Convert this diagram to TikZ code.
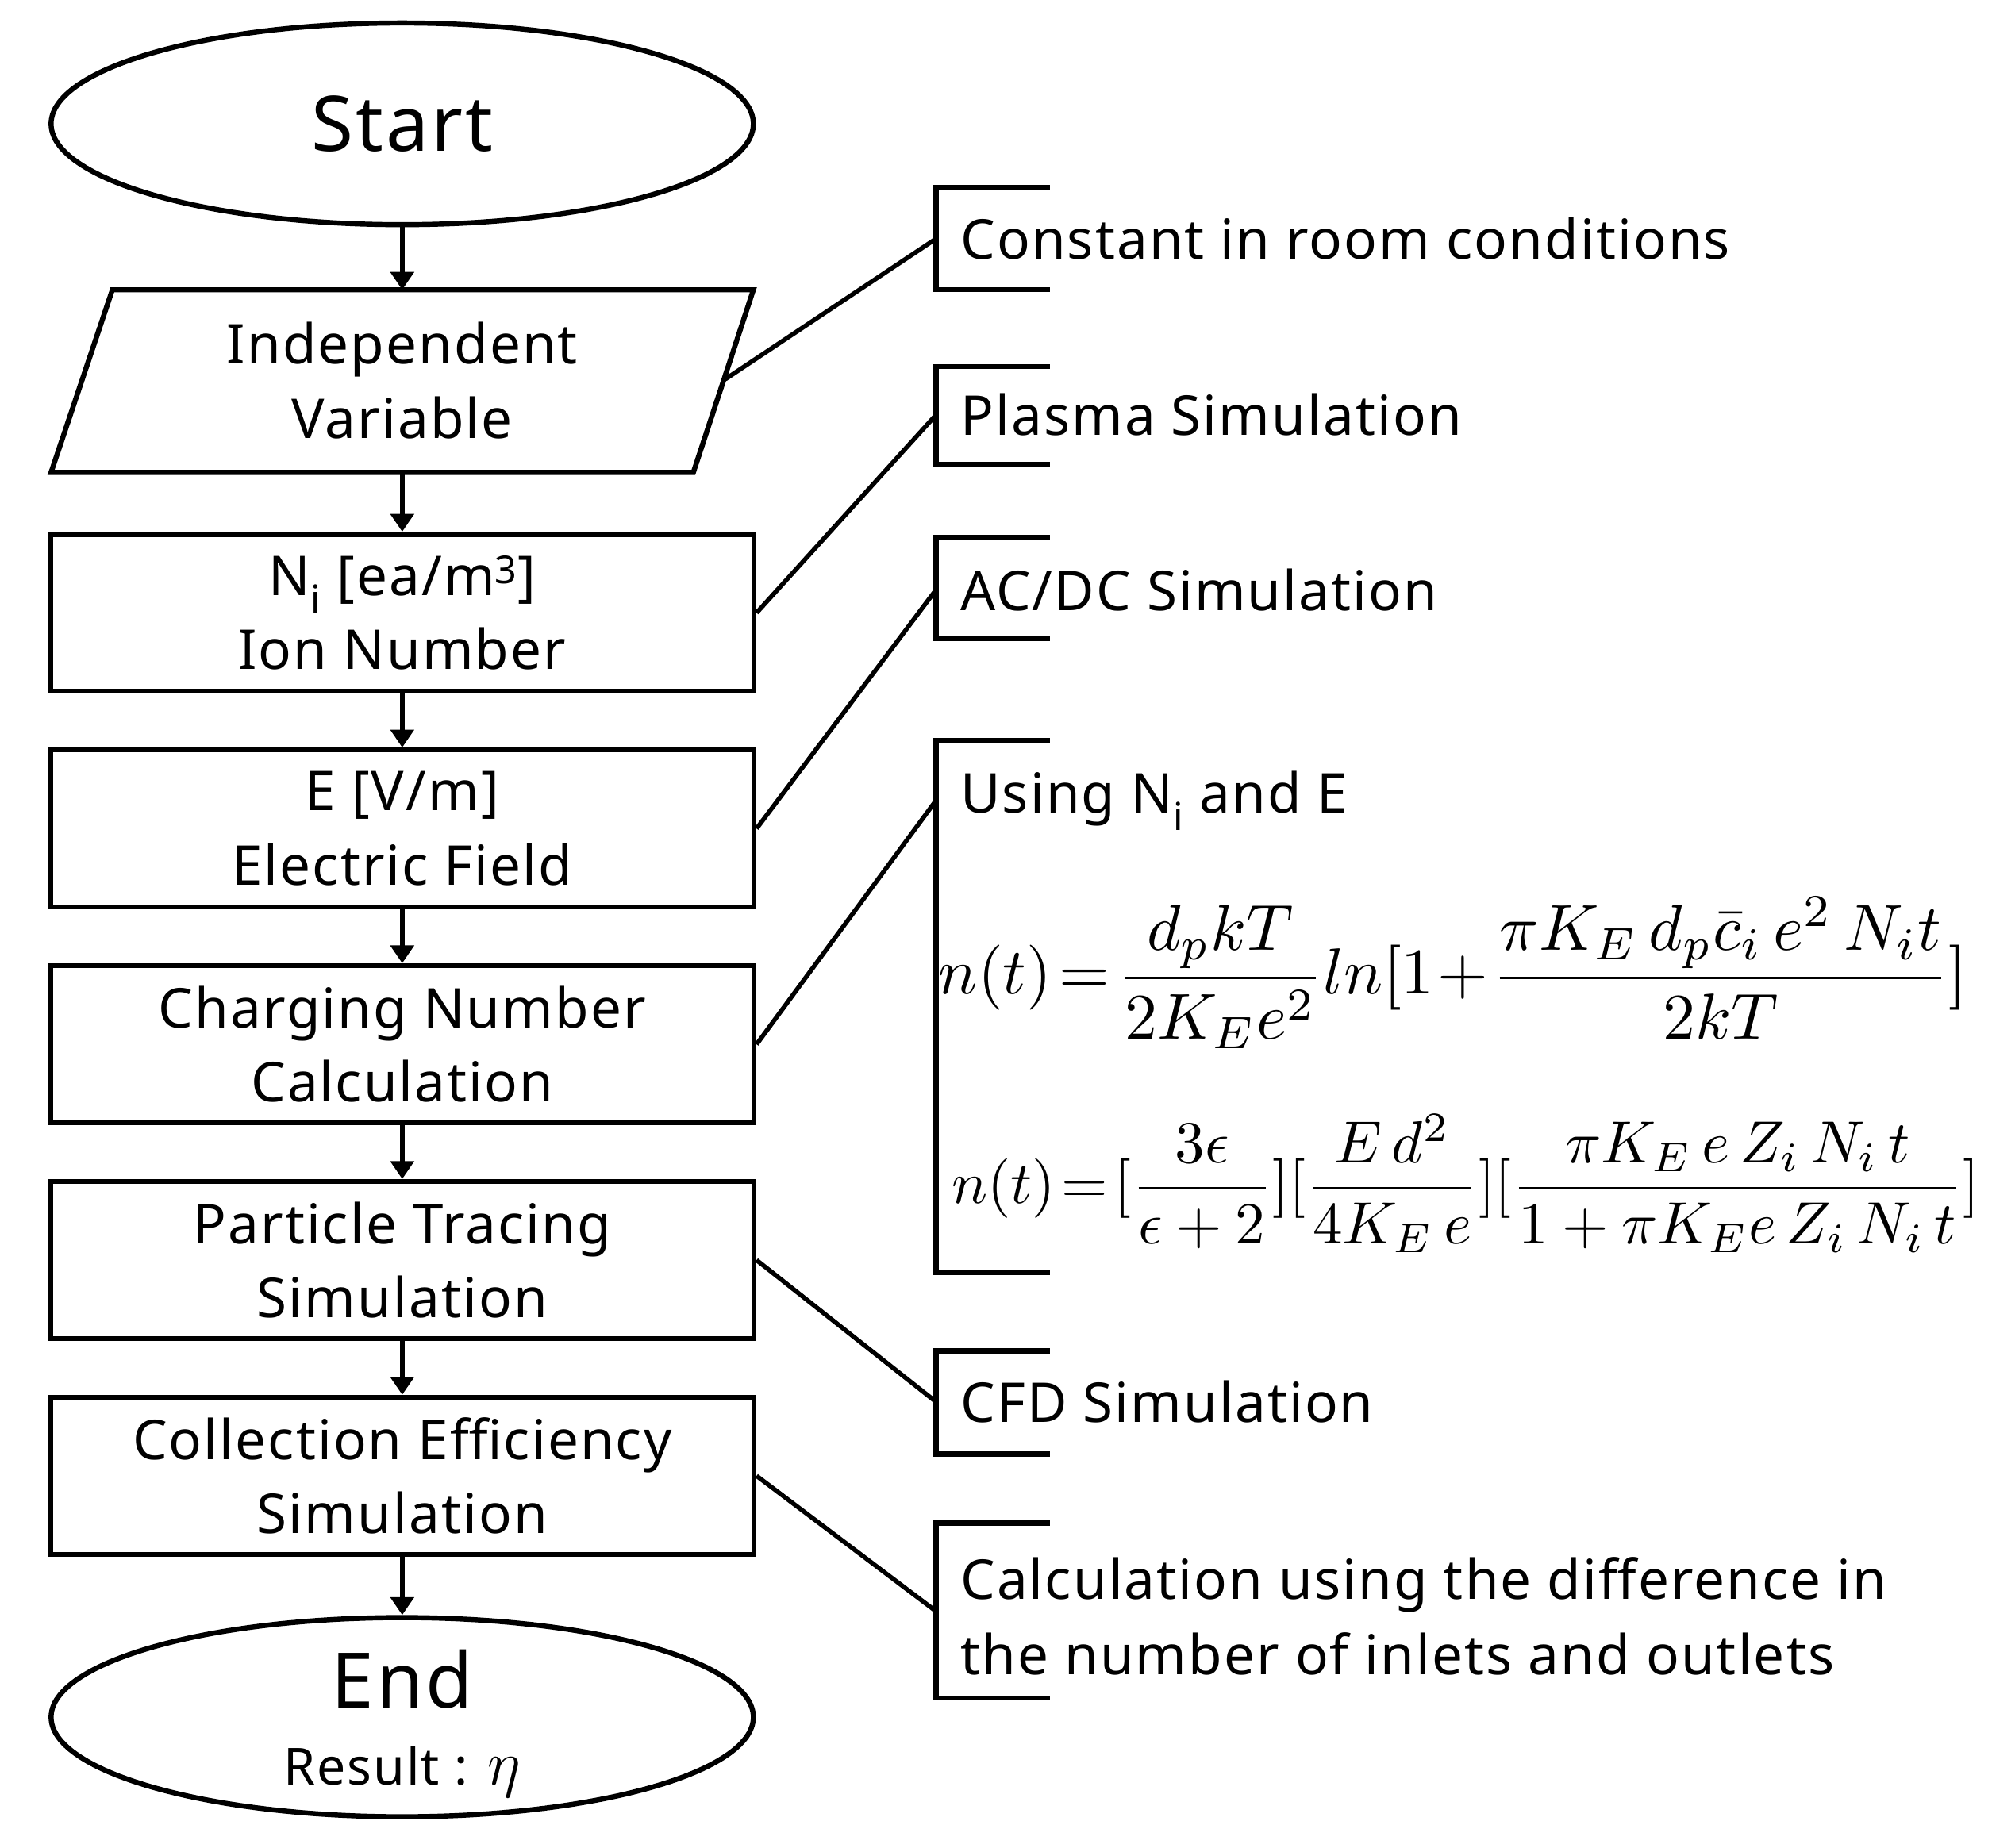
\documentclass[tikz,border=0pt]{standalone}
\usepackage{fontspec}
\setmainfont{Noto Sans}[LetterSpace=3]
\usepackage{amsmath}
\usetikzlibrary{shapes.geometric,arrows.meta}
\begin{document}
\begin{tikzpicture}[x=1pt,y=-1pt,
  lw/.style={line width=4pt},
  box/.style={lw,draw,minimum width=551pt,minimum height=123pt,align=center,font=\fontsize{43}{58}\selectfont,inner sep=0},
  arr/.style={lw,-{Triangle[length=14pt,width=18pt]}},
  lbl/.style={anchor=west,font=\fontsize{43}{59}\selectfont,align=left,inner sep=0},
  con/.style={line width=3.5pt}]
\useasboundingbox (0,0) rectangle (1560,1447);
\node[lw,draw,ellipse,minimum width=550pt,minimum height=158pt,font=\fontsize{60}{60}\selectfont] (start) at (315,97) {Start};
\draw[lw] (88,227) -- (590,227) -- (543,370) -- (40,370) -- cycle;
\node[font=\fontsize{43}{58}\selectfont,align=center] (iv) at (315,298) {Independent\\Variable};
\coordinate (ivT) at (315,227); \coordinate (ivB) at (315,370); \coordinate (ivR) at (568,297);
\node[box] (ni) at (315,480) {N\textsubscript{i} [ea/m\textsuperscript{3}]\\Ion Number};
\node[box] (ef) at (315,649) {E [V/m]\\Electric Field};
\node[box] (cn) at (315,818) {Charging Number\\Calculation};
\node[box] (pt) at (315,987) {Particle Tracing\\Simulation};
\node[box] (ce) at (315,1156) {Collection Efficiency\\Simulation};
\node[lw,draw,ellipse,minimum width=550pt,minimum height=156pt] (end) at (315,1345) {};
\node[font=\fontsize{60}{60}\selectfont,inner sep=0] (endt) at (315,1315) {End};
\node[font=\fontsize{40}{44}\selectfont,inner sep=0] (res) at (315,1388) {Result : \scalebox{2}{$\eta$}};
\draw[arr] (start) -- (ivT);
\draw[arr] (ivB) -- (ni);
\draw[arr] (ni) -- (ef);
\draw[arr] (ef) -- (cn);
\draw[arr] (cn) -- (pt);
\draw[arr] (pt) -- (ce);
\draw[arr] (ce) -- (end);
\foreach \a/\b in {147/227,287/364,421/500,580/997,1058/1139,1193/1330}{
  \draw[lw] (822,\a) -- (733,\a) -- (733,\b) -- (822,\b);
}
\coordinate (c1) at (733,187); \coordinate (c2) at (733,325); \coordinate (c3) at (733,462);
\coordinate (c4) at (733,627); \coordinate (c5) at (733,1098); \coordinate (c6) at (733,1262);
\node[lbl] (t1) at (752,187) {Constant in room conditions};
\node[lbl] (t2) at (752,325) {Plasma Simulation};
\node[lbl] (t3) at (752,462) {AC/DC Simulation};
\node[lbl] (t4) at (752,627) {Using N\textsubscript{i} and E};
\node[anchor=west,inner sep=0] (eq1) at (735,762) {\resizebox{805pt}{!}{$n(t)\!=\!\dfrac{d_p kT}{2K_E e^2}ln[1\!+\!\dfrac{\pi K_E\, d_p\bar{c}_i\, e^2\, N_i t}{2kT}]$}};
\node[anchor=west,inner sep=0] (eq2) at (745,927) {\resizebox{805pt}{!}{$n(t)\!=\![\dfrac{3\epsilon}{\epsilon+2}][\dfrac{E\,d^2}{4K_E\,e}][\dfrac{\pi K_E\,e\,Z_i\,N_i\,t}{1+\pi K_E e\,Z_i\,N_i\,t}]$}};
\node[lbl] (t5) at (752,1098) {CFD Simulation};
\node[lbl] (t6) at (752,1266) {Calculation using the difference in\\the number of inlets and outlets};
\draw[con] (ivR) -- (c1);
\draw[con] (ni.east) -- (c2);
\draw[con] (ef.east) -- (c3);
\draw[con] (cn.east) -- (c4);
\draw[con] (pt.east) -- (c5);
\draw[con] (ce.east) -- (c6);
\end{tikzpicture}
\end{document}
